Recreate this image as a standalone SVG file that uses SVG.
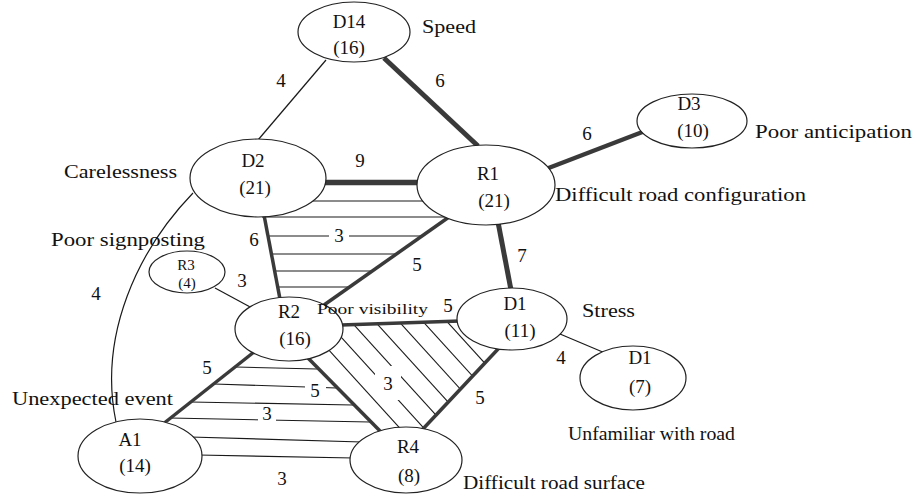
<svg xmlns="http://www.w3.org/2000/svg" width="919" height="495" viewBox="0 0 919 495" font-family="'Liberation Serif', 'DejaVu Serif', serif">
<style>
text{font-family:'Liberation Serif','DejaVu Serif',serif;fill:#111;font-size:19px}
.c{text-anchor:middle}
.s{font-size:15px}
.node ellipse{fill:#fff;stroke:#222;stroke-width:1.2}
.thin{stroke:#1a1a1a;stroke-width:1.2;fill:none}
.thick{stroke:#3a3a3a;fill:none}
.h{stroke:#1a1a1a;stroke-width:1.1}
.gap{fill:#fff}
</style>
<defs>
<clipPath id="clipR2D1R4">
<polygon points="289,329 343,325 459,321 512,319 498,349 423,429 406,460 381,432 307,357"/>
</clipPath>
</defs>
<rect width="919" height="495" fill="#fff"/>
<g id="connectors">
<g id="hatch-D2-R1-R2">
<line class="h" x1="308" y1="201" x2="428" y2="201"/>
<line class="h" x1="262" y1="217" x2="448" y2="217"/>
<line class="h" x1="268" y1="236" x2="423" y2="236"/>
<line class="h" x1="272" y1="254" x2="397" y2="254"/>
<line class="h" x1="275" y1="271" x2="372" y2="271"/>
<line class="h" x1="278" y1="287" x2="349" y2="287"/>
</g>
<g id="hatch-R2-D1-R4" clip-path="url(#clipR2D1R4)">
<line class="h" x1="267" y1="282" x2="447" y2="480"/>
<line class="h" x1="291" y1="282" x2="471" y2="480"/>
<line class="h" x1="315" y1="282" x2="495" y2="480"/>
<line class="h" x1="339" y1="282" x2="519" y2="480"/>
<line class="h" x1="363" y1="282" x2="543" y2="480"/>
<line class="h" x1="387" y1="282" x2="567" y2="480"/>
<line class="h" x1="411" y1="282" x2="591" y2="480"/>
</g>
<g id="hatch-A1-R2-R4">
<line class="h" x1="236" y1="367" x2="317" y2="369"/>
<line class="h" x1="214" y1="384" x2="337" y2="388"/>
<line class="h" x1="191" y1="402" x2="353" y2="405"/>
<line class="h" x1="170" y1="418" x2="370" y2="422"/>
<line class="h" x1="190" y1="437" x2="362" y2="442"/>
</g>
<line id="e-A1-R4" class="thin" x1="198" y1="455" x2="354" y2="458"/>
<line id="e-D14-D2" class="thin" x1="326" y1="60" x2="258" y2="140"/>
<line id="e-R3-R2" class="thin" x1="215" y1="288" x2="252" y2="308"/>
<line id="e-D1-D1" class="thin" x1="560" y1="334" x2="605" y2="353"/>
<path id="e-D2-A1" class="thin" d="M193,193 C138,250 98,335 116,422"/>
<line id="e-D14-R1" class="thick" stroke-width="5" x1="384" y1="58" x2="478" y2="146"/>
<line id="e-D2-R1" class="thick" stroke-width="5.5" x1="324" y1="182.5" x2="419" y2="182.5"/>
<line id="e-R1-D3" class="thick" stroke-width="4.5" x1="546" y1="169" x2="645" y2="131"/>
<line id="e-R1-D1" class="thick" stroke-width="5" x1="498" y1="222" x2="511" y2="290"/>
<line id="e-D2-R2" class="thick" stroke-width="3.5" x1="264" y1="215" x2="280" y2="299"/>
<line id="e-R1-R2" class="thick" stroke-width="3.5" x1="449" y1="217" x2="324" y2="305"/>
<line id="e-R2-D1" class="thick" stroke-width="3.5" x1="341" y1="325" x2="460" y2="321"/>
<line id="e-D1-R4" class="thick" stroke-width="3.5" x1="499" y1="348" x2="422" y2="430"/>
<line id="e-R2-R4" class="thick" stroke-width="3.5" x1="306" y1="356" x2="382" y2="433"/>
<line id="e-R2-A1" class="thick" stroke-width="3.5" x1="254" y1="352" x2="163" y2="424"/>
</g>
<g id="label-gaps">
<rect class="gap" x="329" y="226" width="20" height="20"/>
<rect class="gap" x="375" y="366" width="26" height="34"/>
<rect class="gap" x="305" y="381" width="21" height="18"/>
<rect class="gap" x="258" y="406" width="18" height="18"/>
</g>
<g id="D14" class="node"><ellipse cx="354" cy="32" rx="56" ry="30"/><text class="c" x="349" y="28">D14</text><text class="c" x="349" y="54">(16)</text></g>
<g id="D2" class="node"><ellipse cx="258" cy="178" rx="68" ry="39"/><text class="c" x="253" y="167">D2</text><text class="c" x="255" y="194">(21)</text></g>
<g id="R1" class="node"><ellipse cx="486" cy="185" rx="69" ry="40"/><text class="c" x="488" y="180">R1</text><text class="c" x="494" y="207">(21)</text></g>
<g id="D3" class="node"><ellipse cx="692" cy="121" rx="55" ry="27"/><text class="c" x="689" y="110">D3</text><text class="c" x="693" y="137">(10)</text></g>
<g id="R3" class="node"><ellipse cx="187" cy="272" rx="38" ry="21"/><text class="c s" x="186" y="270">R3</text><text class="c s" x="187" y="288">(4)</text></g>
<g id="R2" class="node"><ellipse cx="289" cy="329" rx="54" ry="32"/><text class="c" x="289" y="318">R2</text><text class="c" x="295" y="345">(16)</text></g>
<g id="D1-11" class="node"><ellipse cx="512" cy="319" rx="55" ry="31"/><text class="c" x="515" y="310">D1</text><text class="c" x="520" y="337">(11)</text></g>
<g id="D1-7" class="node"><ellipse cx="633" cy="378" rx="53" ry="32"/><text class="c" x="640" y="364">D1</text><text class="c" x="640" y="393">(7)</text></g>
<g id="A1" class="node"><ellipse cx="140" cy="456" rx="62" ry="37"/><text class="c" x="130" y="446">A1</text><text class="c" x="135" y="472">(14)</text></g>
<g id="R4" class="node"><ellipse cx="406" cy="460" rx="56" ry="33"/><text class="c" x="408" y="453">R4</text><text class="c" x="409" y="482">(8)</text></g>
<g id="edge-labels">
<text class="c" x="281" y="87">4</text>
<text class="c" x="440" y="87">6</text>
<text class="c" x="360" y="167">9</text>
<text class="c" x="587" y="140">6</text>
<text class="c" x="522" y="262">7</text>
<text class="c" x="254" y="246">6</text>
<text class="c" x="339" y="242">3</text>
<text class="c" x="417" y="271">5</text>
<text class="c" x="242" y="287">3</text>
<text class="c" x="96" y="300">4</text>
<text class="c" x="448" y="312">5</text>
<text class="c" x="561" y="364">4</text>
<text class="c" x="480" y="404">5</text>
<text class="c" x="207" y="374">5</text>
<text class="c" x="315" y="397">5</text>
<text class="c" x="267" y="420">3</text>
<text class="c" x="388" y="390">3</text>
<text class="c" x="282" y="485">3</text>
</g>
<g id="annotations">
<text x="422" y="33" textLength="54" lengthAdjust="spacingAndGlyphs">Speed</text>
<text x="64" y="178" textLength="113" lengthAdjust="spacingAndGlyphs">Carelessness</text>
<text x="51" y="246" textLength="154" lengthAdjust="spacingAndGlyphs">Poor signposting</text>
<text x="555" y="201" textLength="251" lengthAdjust="spacingAndGlyphs">Difficult road configuration</text>
<text x="755" y="138" textLength="157" lengthAdjust="spacingAndGlyphs">Poor anticipation</text>
<text class="s" x="317" y="314" textLength="111" lengthAdjust="spacingAndGlyphs">Poor visibility</text>
<text x="582" y="317" textLength="53" lengthAdjust="spacingAndGlyphs">Stress</text>
<text x="568" y="440" textLength="167" lengthAdjust="spacingAndGlyphs">Unfamiliar with road</text>
<text x="12" y="405" textLength="161" lengthAdjust="spacingAndGlyphs">Unexpected event</text>
<text x="463" y="489" textLength="182" lengthAdjust="spacingAndGlyphs">Difficult road surface</text>
</g>
</svg>
